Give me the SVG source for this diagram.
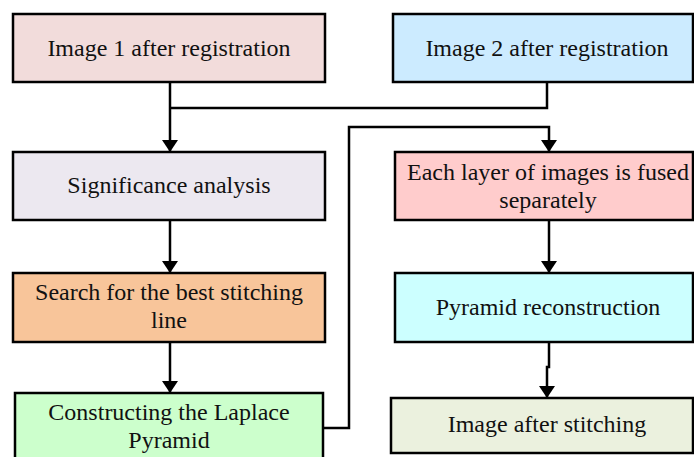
<svg xmlns="http://www.w3.org/2000/svg" width="694" height="457" viewBox="0 0 694 457">
<style>
.box{stroke:#000;stroke-width:2.5}
text{font-family:"Liberation Serif","Times New Roman",serif;font-size:24px;fill:#111;text-anchor:middle}
.c{fill:none;stroke:#000;stroke-width:2.5}
</style>
<defs>
<marker id="ah" markerWidth="12" markerHeight="16" refX="12" refY="8" orient="auto" markerUnits="userSpaceOnUse" viewBox="0 0 12 16">
<path d="M0,0 L12,8 L0,16 Z" fill="#000"/>
</marker>
</defs>
<g id="n1"><rect class="box" x="13" y="14" width="312" height="68" fill="#F2DCDB"/><text x="169" y="56">Image 1 after registration</text></g>
<g id="n2"><rect class="box" x="393" y="14" width="300" height="68" fill="#CCEBFF"/><text x="547" y="56">Image 2 after registration</text></g>
<g id="n3"><rect class="box" x="13" y="152" width="312" height="68" fill="#ECE8F0"/><text x="169" y="193">Significance analysis</text></g>
<g id="n4"><rect class="box" x="395" y="152" width="298" height="68" fill="#FFCCCC"/><text x="548" y="180">Each layer of images is fused</text><text x="548" y="208">separately</text></g>
<g id="n5"><rect class="box" x="13" y="273" width="312" height="69" fill="#F8C59A"/><text x="169" y="300">Search for the best stitching</text><text x="169" y="328">line</text></g>
<g id="n6"><rect class="box" x="395" y="273" width="298" height="69" fill="#CCFFFF"/><text x="548" y="315">Pyramid reconstruction</text></g>
<g id="n7"><rect class="box" x="15" y="393" width="308" height="80" fill="#CCFFCC"/><text x="169" y="420">Constructing the Laplace</text><text x="169" y="448">Pyramid</text></g>
<g id="n8"><rect class="box" x="391" y="398" width="302" height="55" fill="#EBF1DE"/><text x="547" y="432">Image after stitching</text></g>
<g id="connectors">
<path class="c" d="M170,82 V152" marker-end="url(#ah)"/>
<path class="c" d="M547,82 V108 H170"/>
<path class="c" d="M170,220 V273" marker-end="url(#ah)"/>
<path class="c" d="M170,342 V393" marker-end="url(#ah)"/>
<path class="c" d="M323,428 H349 V127 H549 V152" marker-end="url(#ah)"/>
<path class="c" d="M549,220 V273" marker-end="url(#ah)"/>
<path class="c" d="M549,342 V367 H547 V398" marker-end="url(#ah)"/>
</g>
</svg>
